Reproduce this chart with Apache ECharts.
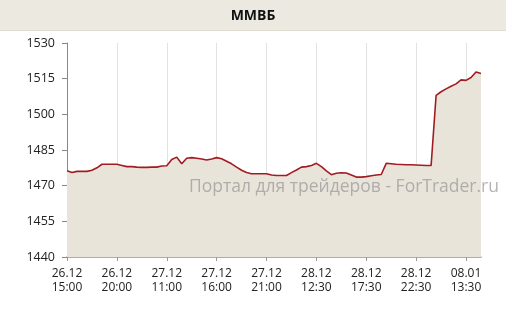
<!DOCTYPE html>
<html><head><meta charset="utf-8">
<script src="https://cdn.jsdelivr.net/npm/echarts@6/dist/echarts.min.js"></script>
<style>html,body{margin:0;padding:0;background:#fff}#c{width:506px;height:313px}</style>
</head><body><div id="c"></div>
<script>
var title = 'ММВБ';
var watermark = 'Портал для трейдеров - ForTrader.ru';
var tickLabels = ['26.12\n15:00','26.12\n20:00','27.12\n11:00','27.12\n16:00','27.12\n21:00','28.12\n12:30','28.12\n17:30','28.12\n22:30','08.01\n13:30'];
var values = [
1476.3,1475.5,1476,1476,1476,1476.5,1477.5,1479,1479,1479,
1479,1478.5,1478,1478,1477.8,1477.7,1477.7,1477.8,1477.8,1478.3,
1478.4,1481,1482,1479.2,1481.5,1481.8,1481.5,1481.2,1480.8,1481.2,
1481.8,1481.3,1480.3,1479.2,1477.8,1476.5,1475.5,1475,1475,1475,
1475,1474.5,1474.3,1474.3,1474.3,1475.5,1476.6,1477.8,1478,1478.5,
1479.4,1478,1476.2,1474.6,1475.2,1475.4,1475.3,1474.5,1473.6,1473.6,
1473.8,1474.2,1474.5,1474.7,1479.4,1479.2,1479,1478.9,1478.8,1478.8,
1478.7,1478.6,1478.5,1478.5,1508,1509.5,1510.7,1511.8,1512.8,1514.5,
1514.3,1515.5,1517.8,1517.2];
var yMin = 1440, yMax = 1530, yStep = 15;
var tickEvery = 10;

var categories = values.map(function(v,i){ return (i % tickEvery === 0 && tickLabels[i/tickEvery]) ? tickLabels[i/tickEvery] : ('p' + i); });

var chart = echarts.init(document.getElementById('c'), null, {renderer:'canvas'});
chart.setOption({
  animation:false,
  backgroundColor:'#ffffff',
  graphic:[
    {type:'rect', shape:{x:0,y:0,width:506,height:30}, style:{fill:'#ECE9E1'}, z:0},
    {type:'rect', shape:{x:0,y:30,width:506,height:1}, style:{fill:'#E0DCD2'}, z:0},
    {type:'text', x:253, y:16, style:{text:title, font:'bold 14px "Open Sans", sans-serif', fill:'#111', align:'center', verticalAlign:'middle'}, z:10},
    {type:'text', x:499, y:187, style:{text:watermark, font:'17.5px "Open Sans", sans-serif', fill:'rgba(150,150,150,0.7)', align:'right', verticalAlign:'middle'}, z:100}
  ],
  grid:{left:67, right:25, top:43, bottom:56},
  xAxis:{
    type:'category', data:categories, boundaryGap:false,
    axisLine:{lineStyle:{color:'#C27C7C', width:1.5}},
    axisTick:{interval:tickEvery-1, length:4, lineStyle:{color:'#999'}},
    axisLabel:{interval:tickEvery-1, color:'#222', fontSize:12, fontFamily:'"Open Sans", sans-serif', lineHeight:14, margin:10,
      formatter:function(v){ return v.charAt(0)==='p' ? '' : v; }},
    splitLine:{show:true, interval:tickEvery-1, lineStyle:{color:'#E2E2E2', width:1}}
  },
  yAxis:{
    type:'value', min:yMin, max:yMax, interval:yStep,
    axisLine:{show:true, lineStyle:{color:'#888'}},
    axisTick:{show:true, length:5, lineStyle:{color:'#888'}},
    axisLabel:{color:'#222', fontSize:12.5, fontFamily:'"Open Sans", sans-serif', margin:12,
      formatter:function(v){ return String(v); }},
    splitLine:{show:false}
  },
  series:[{
    type:'line', data:values, symbol:'none', smooth:false,
    lineStyle:{color:'#A11C22', width:1.6},
    areaStyle:{color:'#E9E4DA', opacity:1, origin:'start'},
    z:3
  }]
});
</script></body></html>
